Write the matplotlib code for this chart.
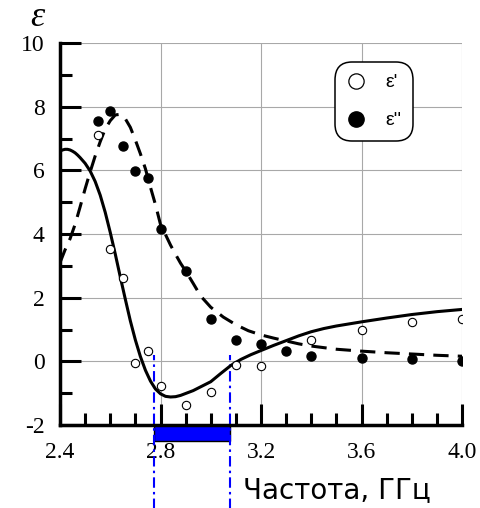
import matplotlib
matplotlib.use('Agg')
import matplotlib.pyplot as plt
from matplotlib.lines import Line2D
from matplotlib.patches import Rectangle
from matplotlib.ticker import MultipleLocator

plt.rcParams['font.family'] = 'Liberation Serif'
plt.rcParams['axes.unicode_minus'] = False

# measured points
freq_re = [2.55, 2.6, 2.65, 2.7, 2.75, 2.8, 2.9, 3.0, 3.1, 3.2, 3.4, 3.6, 3.8, 4.0]
eps_re = [7.1, 3.52, 2.62, -0.05, 0.34, -0.79, -1.38, -0.97, -0.1, -0.15, 0.67, 1.0, 1.24, 1.32]

freq_im = [2.55, 2.6, 2.65, 2.7, 2.75, 2.8, 2.9, 3.0, 3.1, 3.2, 3.3, 3.4, 3.6, 3.8, 4.0]
eps_im = [7.56, 7.87, 6.76, 5.97, 5.76, 4.17, 2.85, 1.34, 0.67, 0.55, 0.33, 0.16, 0.1, 0.06, 0.0]

# fitted curves
fit_re_x = [2.40, 2.41, 2.42, 2.43, 2.44, 2.45, 2.46, 2.47, 2.48, 2.50, 2.52, 2.54,
            2.56, 2.58, 2.60, 2.62, 2.64, 2.66, 2.68, 2.70, 2.72, 2.74, 2.76, 2.78,
            2.80, 2.82, 2.84, 2.86, 2.88, 2.90, 2.93, 2.96, 3.00, 3.04, 3.08, 3.12,
            3.16, 3.20, 3.25, 3.30, 3.35, 3.40, 3.45, 3.50, 3.60, 3.70, 3.80, 3.90, 4.00]
fit_re_y = [6.60, 6.64, 6.66, 6.66, 6.64, 6.60, 6.55, 6.48, 6.40, 6.22, 5.98, 5.65,
            5.22, 4.68, 4.05, 3.37, 2.65, 1.95, 1.27, 0.67, 0.15, -0.28, -0.62, -0.87,
            -1.02, -1.10, -1.12, -1.11, -1.07, -1.01, -0.92, -0.80, -0.64, -0.38, -0.13, 0.06,
            0.21, 0.34, 0.50, 0.65, 0.80, 0.93, 1.03, 1.11, 1.24, 1.36, 1.47, 1.56, 1.63]

fit_im_x = [2.40, 2.42, 2.44, 2.46, 2.48, 2.50, 2.52, 2.54, 2.56, 2.58, 2.60, 2.62,
            2.64, 2.66, 2.68, 2.70, 2.72, 2.74, 2.76, 2.78, 2.80, 2.82, 2.84, 2.86,
            2.88, 2.90, 2.93, 2.96, 3.00, 3.05, 3.10, 3.15, 3.20, 3.25, 3.30, 3.35,
            3.40, 3.50, 3.60, 3.70, 3.80, 3.90, 4.00]
fit_im_y = [3.10, 3.50, 3.85, 4.30, 4.85, 5.42, 5.95, 6.45, 6.90, 7.30, 7.56, 7.74,
            7.76, 7.62, 7.35, 6.95, 6.52, 6.05, 5.47, 4.92, 4.30, 3.98, 3.65, 3.36,
            3.08, 2.84, 2.45, 2.05, 1.70, 1.39, 1.15, 0.96, 0.83, 0.73, 0.64, 0.55,
            0.48, 0.38, 0.32, 0.27, 0.23, 0.19, 0.16]

band = [2.775, 3.075]

fig = plt.figure(figsize=(4.81, 5.08), dpi=100)
ax = fig.add_axes([60 / 481, 83 / 508, 402 / 481, 382 / 508])

ax.plot(fit_re_x, fit_re_y, color='black', lw=2.2, zorder=3)
ax.plot(fit_im_x, fit_im_y, color='black', lw=2.2, dashes=(5, 3), zorder=3)
ax.plot(freq_re, eps_re, 'o', ms=6, mfc='white', mec='black', mew=0.8, zorder=4)
ax.plot(freq_im, eps_im, 'o', ms=6.5, mfc='black', mec='black', zorder=4)

ax.set_xlim(2.4, 4.0)
ax.set_ylim(-2, 10)
ax.xaxis.set_major_locator(MultipleLocator(0.4))
ax.xaxis.set_minor_locator(MultipleLocator(0.1))
ax.yaxis.set_major_locator(MultipleLocator(2))
ax.yaxis.set_minor_locator(MultipleLocator(1))
ax.set_xticks([2.4, 2.8, 3.2, 3.6, 4.0])
ax.set_xticklabels(['2.4', '2.8', '3.2', '3.6', '4.0'])

ax.grid(True, which='major', color='#a8a8a8', lw=0.8)
ax.set_axisbelow(True)
for s in ['top', 'right']:
    ax.spines[s].set_visible(False)
for s in ['left', 'bottom']:
    ax.spines[s].set_linewidth(2.5)

ax.tick_params(which='major', direction='in', length=15, width=2.2, labelsize=17)
ax.tick_params(which='minor', direction='in', length=8.6, width=2.2)
ax.tick_params(axis='x', which='major', pad=12)
ax.tick_params(axis='y', which='major', pad=11)

# working band
ax.add_patch(Rectangle((band[0], -2.5), band[1] - band[0], 0.5, facecolor='#0000ff',
                       edgecolor='black', lw=1, clip_on=False, zorder=1))
for b in band:
    ax.axvline(b, ymin=-0.22, ymax=0.183, color='#0000ff', lw=1.5,
               dashes=(5, 2, 1.2, 2), clip_on=False, zorder=2)

handles = [Line2D([], [], ls='none', marker='o', ms=11, mfc='white', mec='black', mew=0.9),
           Line2D([], [], ls='none', marker='o', ms=11, mfc='black', mec='black')]
leg = ax.legend(handles, ["\u03b5'", "\u03b5''"], loc='upper left',
                bbox_to_anchor=(0.684, 0.95), borderaxespad=0, fancybox=True,
                framealpha=1, edgecolor='black', handlelength=1.0, handletextpad=1.0,
                labelspacing=1.05, borderpad=0.6,
                prop={'family': 'Liberation Sans', 'size': 14})
leg.get_frame().set_linewidth(1.1)
leg.get_frame().set_boxstyle('round', pad=0, rounding_size=0.9)

fig.text(30 / 481, 1 - 18 / 508, '\u03b5', style='italic',
         fontsize=26, ha='left', va='center')
fig.text(243 / 481, 1 - 498 / 508, 'Частота, ГГц', family='DejaVu Sans',
         fontsize=20, ha='left', va='baseline')

fig.savefig('out.png', dpi=100)
